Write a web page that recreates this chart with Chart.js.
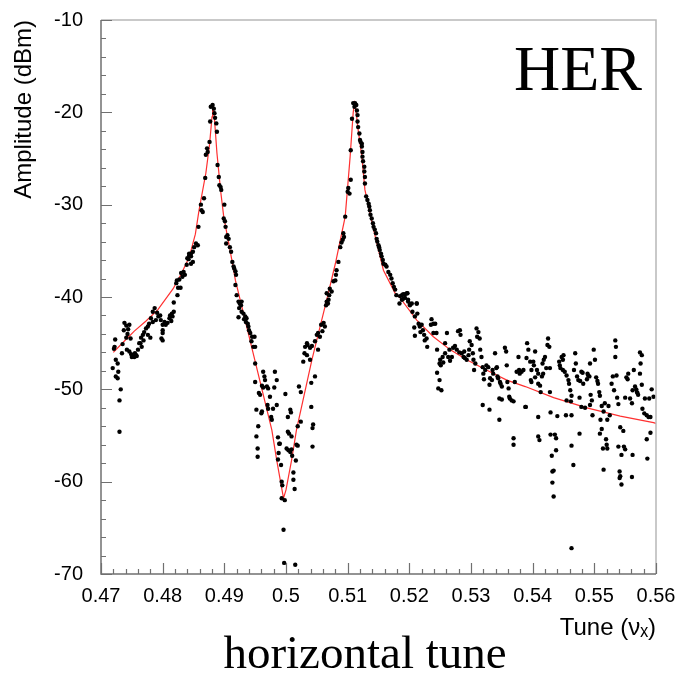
<!DOCTYPE html>
<html>
<head>
<meta charset="utf-8">
<title>HER horizontal tune</title>
<script src="https://cdn.jsdelivr.net/npm/chart.js@4/dist/chart.umd.min.js"></script>
<style>
  body { margin: 0; background: #fff; }
  #box { width: 681px; height: 673px; }
</style>
</head>
<body>
<div id="box"><canvas id="tuneChart" width="681" height="673"></canvas></div>
<script>
// tick values
var xTicks = [0.47, 0.48, 0.49, 0.50, 0.51, 0.52, 0.53, 0.54, 0.55, 0.56];
var yTicks = [-70, -60, -50, -40, -30, -20, -10];

// measured points [tune, dBm], grouped by region of the scan
var peakLeft = [[0.4878,-19.4],[0.4881,-19.2],[0.4883,-19.6],[0.4884,-20.1],[0.4885,-20.6],[0.4887,-21.2],[0.4877,-21.0],[0.4888,-22.1],[0.4876,-23.2],[0.4872,-23.9],[0.4873,-24.3],[0.4870,-24.6],[0.4889,-25.7],[0.4869,-27.1],[0.4891,-27.0],[0.4892,-27.9],[0.4894,-28.1],[0.4895,-28.4],[0.4867,-29.3],[0.4862,-30.0],[0.4863,-30.6],[0.4865,-30.8],[0.4900,-30.0],[0.4899,-31.5],[0.4901,-31.8],[0.4902,-32.4],[0.4858,-32.4],[0.4854,-34.2],[0.4857,-34.4],[0.4851,-34.6],[0.4846,-35.3],[0.4843,-35.5],[0.4840,-35.8],[0.4903,-33.5],[0.4903,-34.2],[0.4905,-33.3],[0.4907,-33.7],[0.4909,-34.6],[0.4911,-35.1],[0.4913,-36.2],[0.4915,-36.7],[0.4916,-36.9],[0.4918,-37.2],[0.4919,-37.6]];

var tailLeft = [[0.4843,-35.3],[0.4849,-35.1],[0.4846,-35.6],[0.4842,-35.9],[0.4849,-36.2],[0.4846,-36.4],[0.4839,-36.5],[0.4834,-37.3],[0.4830,-37.4],[0.4836,-37.6],[0.4832,-37.8],[0.4827,-38.1],[0.4823,-38.2],[0.4822,-38.5],[0.4829,-39.0],[0.4825,-39.0],[0.4824,-39.8],[0.4818,-40.6],[0.4818,-41.6],[0.4815,-41.8],[0.4812,-42.0],[0.4816,-42.1],[0.4811,-42.3],[0.4814,-42.6],[0.4808,-42.8],[0.4805,-43.0],[0.4803,-42.7],[0.4800,-43.0],[0.4797,-42.5],[0.4796,-42.0],[0.4793,-42.1],[0.4791,-41.7],[0.4787,-41.2],[0.4784,-41.6],[0.4789,-42.5],[0.4784,-42.7],[0.4781,-42.3],[0.4778,-42.9],[0.4776,-43.2],[0.4773,-43.4],[0.4770,-43.8],[0.4776,-44.1],[0.4780,-44.4],[0.4800,-43.6],[0.4800,-43.9],[0.4798,-44.5],[0.4800,-44.7],[0.4768,-44.1],[0.4765,-44.4],[0.4769,-44.7],[0.4764,-45.0],[0.4766,-45.4],[0.4762,-45.0],[0.4760,-45.7],[0.4757,-46.3],[0.4754,-46.5],[0.4751,-46.4],[0.4750,-46.5],[0.4755,-46.1],[0.4758,-46.4],[0.4749,-46.2],[0.4746,-45.9],[0.4742,-45.7],[0.4738,-42.8],[0.4741,-43.1],[0.4746,-43.0],[0.4744,-43.5],[0.4737,-43.6],[0.4743,-44.0],[0.4741,-44.4],[0.4748,-44.5],[0.4723,-44.6],[0.4722,-45.4],[0.4721,-45.6],[0.4735,-45.1],[0.4734,-46.1],[0.4724,-46.8],[0.4727,-47.2],[0.4719,-47.7],[0.4728,-48.1],[0.4724,-48.6],[0.4727,-48.8],[0.4732,-50.0],[0.4730,-51.2],[0.4730,-54.6]];

var dipPoints = [[0.4918,-38.7],[0.4920,-39.8],[0.4923,-40.5],[0.4925,-40.7],[0.4928,-40.5],[0.4927,-40.9],[0.4924,-41.2],[0.4928,-41.6],[0.4931,-41.8],[0.4934,-42.1],[0.4932,-42.4],[0.4923,-42.2],[0.4936,-42.3],[0.4935,-42.7],[0.4938,-42.9],[0.4939,-43.2],[0.4940,-43.6],[0.4942,-43.9],[0.4945,-44.3],[0.4949,-44.3],[0.4944,-44.8],[0.4947,-45.4],[0.4950,-45.4],[0.4950,-47.2],[0.4963,-48.1],[0.4965,-48.6],[0.4982,-48.1],[0.4966,-49.0],[0.4950,-49.2],[0.4985,-49.0],[0.4961,-49.6],[0.4969,-49.7],[0.4963,-49.8],[0.4971,-49.9],[0.4981,-49.8],[0.4956,-50.4],[0.4958,-50.6],[0.4974,-50.8],[0.4970,-51.7],[0.4952,-52.2],[0.4961,-52.4],[0.4960,-52.6],[0.4971,-52.1],[0.4979,-52.1],[0.4985,-51.7],[0.4999,-50.5],[0.4976,-53.0],[0.4977,-53.3],[0.4955,-54.0],[0.5007,-52.2],[0.5003,-53.0],[0.5008,-52.5],
  [0.5066,-39.6],[0.5069,-40.3],[0.5068,-40.7],[0.5061,-42.8],[0.5057,-43.0],[0.5063,-43.2],[0.5059,-43.7],[0.5052,-43.9],[0.5050,-44.1],[0.5055,-44.3],[0.5047,-44.8],[0.5034,-45.0],[0.5035,-45.2],[0.5031,-45.4],[0.5039,-45.5],[0.5042,-45.3],[0.5052,-45.7],[0.5030,-46.1],[0.5034,-46.3],[0.5028,-47.0],[0.5039,-46.8],[0.5047,-48.6],[0.5041,-49.3],[0.5021,-49.7],[0.5024,-50.3],[0.5041,-51.9],[0.5024,-53.5],[0.5044,-53.8],[0.5019,-54.0],[0.5043,-54.2],
  [0.4952,-55.1],[0.4954,-56.4],[0.4954,-57.3],[0.4987,-55.2],[0.4989,-55.9],[0.4990,-55.9],[0.4988,-56.9],[0.4987,-57.6],[0.4992,-58.2],[0.5003,-54.6],[0.5005,-54.8],[0.5009,-55.1],[0.5001,-56.4],[0.5004,-56.6],[0.5007,-56.8],[0.5009,-56.5],[0.5010,-57.2],[0.5017,-56.0],[0.5019,-56.1],[0.5016,-57.7],[0.5043,-56.2],[0.5012,-59.0],[0.5012,-59.8],[0.5014,-60.8],[0.4993,-60.0],[0.4994,-60.4],[0.4993,-61.8],[0.4998,-62.0],[0.4996,-65.2],[0.4997,-68.8],[0.5015,-69.0]];

var peakRight = [[0.5109,-19.0],[0.5112,-19.0],[0.5114,-19.2],[0.5111,-19.4],[0.5115,-19.8],[0.5116,-20.3],[0.5107,-20.7],[0.5116,-21.0],[0.5117,-21.6],[0.5119,-22.3],[0.5120,-23.0],[0.5121,-23.2],[0.5123,-23.4],[0.5123,-23.7],[0.5105,-24.1],[0.5124,-24.3],[0.5124,-24.8],[0.5125,-25.3],[0.5127,-25.9],[0.5127,-26.4],[0.5128,-27.0],[0.5105,-27.3],[0.5128,-27.7],[0.5101,-28.2],[0.5100,-28.6],[0.5103,-28.8],[0.5130,-29.1],[0.5132,-29.5],[0.5134,-29.9],[0.5135,-30.2],[0.5136,-30.6],[0.5137,-31.1],[0.5096,-31.3],[0.5139,-31.5],[0.5141,-32.0],[0.5142,-32.4],[0.5144,-32.7],[0.5146,-33.1],[0.5093,-33.1],[0.5094,-33.5],[0.5092,-33.8],[0.5090,-34.1],[0.5088,-34.6],[0.5147,-33.7],[0.5148,-34.0],[0.5150,-34.4],[0.5151,-34.6],[0.5152,-34.9],[0.5154,-35.3],[0.5155,-35.6],[0.5157,-36.0],[0.5085,-36.2],[0.5158,-36.4],[0.5161,-36.5],[0.5163,-36.7],[0.5166,-37.3],[0.5082,-37.1],[0.5081,-37.6],[0.5169,-37.6],[0.5171,-38.0],[0.5080,-38.2],[0.5077,-38.3],[0.5173,-38.5],[0.5175,-38.9],[0.5177,-39.2],[0.5071,-39.1],[0.5074,-39.4],[0.5070,-39.8],[0.5179,-39.8],[0.5185,-39.9],[0.5190,-39.7],[0.5197,-39.6],[0.5193,-40.1],[0.5188,-40.3],[0.5198,-40.3],[0.5184,-40.7],[0.5201,-40.8],[0.5212,-40.7],[0.5066,-40.5],[0.5065,-40.9]];

var tailMid = [[0.5188,-39.8],[0.5193,-39.7],[0.5196,-39.6],[0.5190,-40.2],[0.5198,-40.5],[0.5201,-40.9],[0.5204,-40.7],[0.5212,-40.7],[0.5205,-41.6],[0.5209,-42.1],[0.5213,-41.8],[0.5215,-42.9],[0.5217,-43.2],[0.5220,-43.0],[0.5222,-43.6],[0.5218,-43.8],[0.5224,-44.1],[0.5228,-44.5],[0.5225,-44.7],[0.5229,-45.4],[0.5208,-43.3],[0.5209,-44.2],[0.5236,-42.4],[0.5239,-42.9],[0.5235,-43.0],[0.5242,-42.9],[0.5239,-43.9],[0.5244,-43.9],[0.5245,-45.7],[0.5250,-46.8],[0.5249,-47.2],[0.5254,-46.5],[0.5255,-47.1],[0.5258,-46.1],[0.5251,-47.4],[0.5245,-48.2],[0.5249,-49.0],[0.5247,-49.9],[0.5252,-50.1],[0.5261,-43.9],[0.5258,-45.0],[0.5263,-46.5],[0.5266,-46.9],[0.5269,-46.5],[0.5265,-45.7],[0.5271,-45.5],[0.5274,-45.3],[0.5277,-45.7],[0.5279,-43.7],[0.5282,-43.6],[0.5283,-44.1],[0.5281,-46.0],[0.5285,-46.1],[0.5288,-46.5],[0.5290,-46.6],[0.5289,-45.9],[0.5293,-46.8],[0.5296,-46.3],[0.5298,-44.8],[0.5301,-45.2],[0.5297,-45.7],[0.5303,-46.1],[0.5304,-46.8],[0.5305,-47.9],[0.5307,-47.2],[0.5309,-43.4],[0.5312,-43.8],[0.5314,-44.5],[0.5310,-44.3],[0.5315,-45.7],[0.5317,-46.5],[0.5319,-47.6],[0.5320,-48.3],[0.5321,-48.9],[0.5323,-47.9],[0.5325,-47.4],[0.5328,-47.6],[0.5331,-48.8],[0.5330,-49.5],[0.5334,-49.0],[0.5335,-47.9],[0.5336,-48.3],[0.5339,-46.1],[0.5341,-47.7],[0.5342,-47.6],[0.5343,-48.6],[0.5344,-48.8],[0.5347,-49.2],[0.5348,-49.4],[0.5350,-49.7],[0.5346,-51.0],[0.5350,-51.1],[0.5355,-45.5],[0.5357,-45.9],[0.5358,-47.4],[0.5359,-49.2],[0.5361,-49.9],[0.5362,-50.8],[0.5363,-51.0],[0.5366,-51.2],[0.5369,-51.3],[0.5371,-49.2],[0.5374,-48.1],[0.5377,-46.5],[0.5378,-47.9],[0.5379,-48.3],[0.5382,-48.1],[0.5385,-47.9],[0.5319,-51.7],[0.5330,-52.2],[0.5346,-53.3],[0.5369,-55.3],[0.5369,-56.0],[0.5388,-51.9]];

var tailRight = [[0.5391,-45.0],[0.5393,-45.7],[0.5390,-46.6],[0.5404,-45.9],[0.5401,-47.0],[0.5396,-47.0],[0.5402,-47.4],[0.5398,-47.9],[0.5407,-47.9],[0.5409,-48.3],[0.5404,-48.7],[0.5397,-49.0],[0.5398,-49.2],[0.5409,-49.4],[0.5412,-49.6],[0.5415,-48.6],[0.5417,-48.3],[0.5416,-47.2],[0.5418,-46.8],[0.5420,-46.5],[0.5424,-45.2],[0.5425,-44.5],[0.5427,-45.4],[0.5422,-47.7],[0.5428,-47.7],[0.5413,-50.3],[0.5428,-50.3],[0.5389,-51.9],[0.5409,-53.0],[0.5429,-52.5],[0.5440,-52.9],[0.5443,-47.0],[0.5444,-47.4],[0.5447,-46.5],[0.5449,-46.8],[0.5450,-46.3],[0.5445,-47.7],[0.5449,-47.9],[0.5452,-48.1],[0.5455,-48.5],[0.5458,-49.0],[0.5459,-49.4],[0.5461,-50.1],[0.5463,-50.7],[0.5455,-51.2],[0.5462,-51.3],[0.5454,-52.8],[0.5463,-52.8],[0.5467,-47.9],[0.5469,-46.1],[0.5470,-47.2],[0.5472,-48.6],[0.5474,-49.0],[0.5477,-49.1],[0.5476,-50.9],[0.5479,-48.1],[0.5481,-48.2],[0.5482,-49.4],[0.5479,-51.9],[0.5485,-52.0],[0.5488,-48.9],[0.5489,-48.3],[0.5490,-48.5],[0.5492,-48.6],[0.5493,-47.2],[0.5494,-50.6],[0.5496,-51.2],[0.5493,-51.7],[0.5497,-52.8],[0.5499,-45.7],[0.5501,-46.8],[0.5503,-48.7],[0.5505,-49.1],[0.5506,-49.4],[0.5508,-50.3],[0.5509,-50.7],[0.5512,-51.8],[0.5510,-53.3],[0.5515,-52.4],[0.5517,-51.5],[0.5521,-53.3],[0.5523,-51.8],[0.5525,-52.8],[0.5528,-49.4],[0.5530,-48.6],[0.5532,-50.1],[0.5534,-44.7],[0.5535,-45.4],[0.5534,-46.5],[0.5536,-48.5],[0.5537,-50.9],[0.5539,-51.6],[0.5542,-54.1],[0.5550,-50.9],[0.5552,-48.7],[0.5554,-48.9],[0.5555,-48.3],[0.5558,-51.0],[0.5561,-51.5],[0.5562,-50.1],[0.5564,-47.9],[0.5566,-49.7],[0.5569,-50.3],[0.5570,-50.4],[0.5571,-50.6],[0.5568,-50.0],[0.5574,-46.0],[0.5577,-46.3],[0.5575,-47.2],[0.5574,-48.3],[0.5577,-49.5],[0.5578,-52.1],[0.5581,-52.6],[0.5582,-51.0],[0.5585,-52.8],[0.5588,-53.0],[0.5589,-51.0],[0.5591,-53.0],[0.5593,-50.0],[0.5596,-50.8],
  [0.5409,-55.1],[0.5411,-55.5],[0.5429,-54.9],[0.5436,-54.9],[0.5438,-55.3],[0.5476,-54.8],[0.5509,-54.8],[0.5512,-54.3],[0.5519,-55.4],[0.5547,-54.5],[0.5463,-56.1],[0.5431,-57.2],[0.5438,-56.6],[0.5514,-56.4],[0.5520,-56.0],[0.5521,-56.4],[0.5539,-56.2],[0.5548,-56.2],[0.5550,-56.5],[0.5544,-57.1],[0.5562,-57.1],[0.5586,-57.5],[0.5591,-54.7],[0.5585,-55.4],[0.5466,-58.2],[0.5434,-58.8],[0.5432,-58.9],[0.5515,-58.7],[0.5541,-58.9],[0.5542,-59.4],[0.5541,-59.6],[0.5561,-59.5],[0.5544,-60.3],[0.5432,-60.1],[0.5434,-61.6],[0.5463,-67.2]];

// fitted curve
var fitTune = [0.4720, 0.4736, 0.4754, 0.4773, 0.4792, 0.4817, 0.4830, 0.4843, 0.4853, 0.4859, 0.4870, 0.4876, 0.4880, 0.4881, 0.4883, 0.4888, 0.4894, 0.4899, 0.4910, 0.4918, 0.4977, 0.4985, 0.4993, 0.4996, 0.5000, 0.5009, 0.5017, 0.5042, 0.5066, 0.5080, 0.5096, 0.5104, 0.5109, 0.5111, 0.5113, 0.5117, 0.5123, 0.5128, 0.5142, 0.5158, 0.5177, 0.5185, 0.5212, 0.5239, 0.5266, 0.5293, 0.5325, 0.5358, 0.5388, 0.5434, 0.5488, 0.5542, 0.5596, 0.5600];
var fitAmp  = [-46.0, -44.9, -43.7, -42.6, -41.4, -39.1, -37.5, -35.7, -33.2, -30.6, -26.6, -23.5, -20.5, -19.0, -19.8, -24.4, -28.5, -31.3, -35.2, -38.2, -54.4, -57.7, -60.7, -61.8, -60.9, -57.7, -54.4, -46.8, -40.3, -36.4, -31.3, -24.8, -20.0, -19.0, -19.6, -21.9, -24.8, -28.4, -32.7, -37.1, -39.6, -40.1, -42.5, -44.3, -45.7, -46.8, -47.9, -49.0, -49.7, -50.9, -52.0, -52.9, -53.6, -53.7];

var scanPoints = [].concat(peakLeft, tailLeft, dipPoints, peakRight, tailMid, tailRight)
  .map(function(p) { return {x: p[0], y: p[1]}; });
var fitPoints = fitTune.map(function(t, i) { return {x: t, y: fitAmp[i]}; });

// frame, inward ticks and the two big serif captions
var framePlugin = {
  id: 'framePlugin',
  afterDatasetsDraw: function(chart) {
    var ctx = chart.ctx, a = chart.chartArea;
    var sx = chart.scales.x, sy = chart.scales.y;
    ctx.save();
    ctx.lineWidth = 1.5;
    ctx.strokeStyle = '#b8b8b8';
    ctx.beginPath();
    ctx.moveTo(a.left, a.top); ctx.lineTo(a.right, a.top); ctx.lineTo(a.right, a.bottom);
    ctx.stroke();
    ctx.strokeStyle = '#707070';
    ctx.beginPath();
    ctx.moveTo(a.left, a.top); ctx.lineTo(a.left, a.bottom); ctx.lineTo(a.right, a.bottom);
    ctx.stroke();
    ctx.lineWidth = 1.2;
    ctx.beginPath();
    var i, p, len;
    for (i = 0; i <= 45; i++) {
      p = Math.round(sx.getPixelForValue(0.47 + i * 0.002)) + 0.5;
      len = (i % 5 === 0) ? 11 : 5;
      ctx.moveTo(p, a.bottom); ctx.lineTo(p, a.bottom - len);
    }
    for (i = 0; i <= 30; i++) {
      p = Math.round(sy.getPixelForValue(-70 + i * 2)) + 0.5;
      len = (i % 5 === 0) ? 11 : 5;
      ctx.moveTo(a.left, p); ctx.lineTo(a.left + len, p);
    }
    ctx.stroke();

    ctx.fillStyle = '#000';
    ctx.textBaseline = 'alphabetic';
    ctx.font = '64px "Liberation Serif"';
    ctx.textAlign = 'right';
    ctx.fillText('HER', 642, 90);
    ctx.font = '47px "Liberation Serif"';
    ctx.textAlign = 'center';
    ctx.fillText('horizontal tune', 365, 668);
    ctx.restore();
  }
};

var tickFont = {family: '"Liberation Sans", Arial, sans-serif', size: 20};

new Chart(document.getElementById('tuneChart'), {
  type: 'scatter',
  data: {
    datasets: [{
      label: 'scan',
      data: scanPoints,
      pointRadius: 2.2,
      pointBorderWidth: 0,
      pointBackgroundColor: '#000',
      showLine: false
    }, {
      label: 'fit',
      data: fitPoints,
      showLine: true,
      borderColor: '#ff3030',
      borderWidth: 1.2,
      pointRadius: 0,
      tension: 0,
      fill: false
    }]
  },
  options: {
    responsive: false,
    animation: false,
    layout: {padding: {left: 0, right: 25, top: 20, bottom: 0}, autoPadding: false},
    plugins: {legend: {display: false}, tooltip: {enabled: false}},
    scales: {
      x: {
        type: 'linear', min: 0.47, max: 0.56,
        afterBuildTicks: function(s) { s.ticks = xTicks.map(function(v) { return {value: v}; }); },
        afterFit: function(s) { s.height = 99; s.paddingLeft = 0; s.paddingRight = 0; },
        grid: {display: false, drawTicks: false},
        border: {display: false},
        ticks: {
          color: '#000', font: tickFont, padding: 10, maxRotation: 0, autoSkip: false,
          callback: function(v) { return String(+v.toFixed(2)); }
        },
        title: {
          display: true, text: 'Tune (νₓ)', align: 'end', color: '#000',
          font: {family: '"Liberation Sans", Arial, sans-serif', size: 24},
          padding: {top: 0, bottom: 30}
        }
      },
      y: {
        min: -70, max: -10,
        afterBuildTicks: function(s) { s.ticks = yTicks.map(function(v) { return {value: v}; }); },
        afterFit: function(s) { s.width = 101; s.paddingTop = 0; s.paddingBottom = 0; },
        grid: {display: false, drawTicks: false},
        border: {display: false},
        ticks: {color: '#000', font: tickFont, padding: 18},
        title: {
          display: true, text: 'Amplitude (dBm)', align: 'end', color: '#000',
          font: {family: '"Liberation Sans", Arial, sans-serif', size: 24},
          padding: {top: 10, bottom: 0}
        }
      }
    }
  },
  plugins: [framePlugin]
});
</script>
</body>
</html>
